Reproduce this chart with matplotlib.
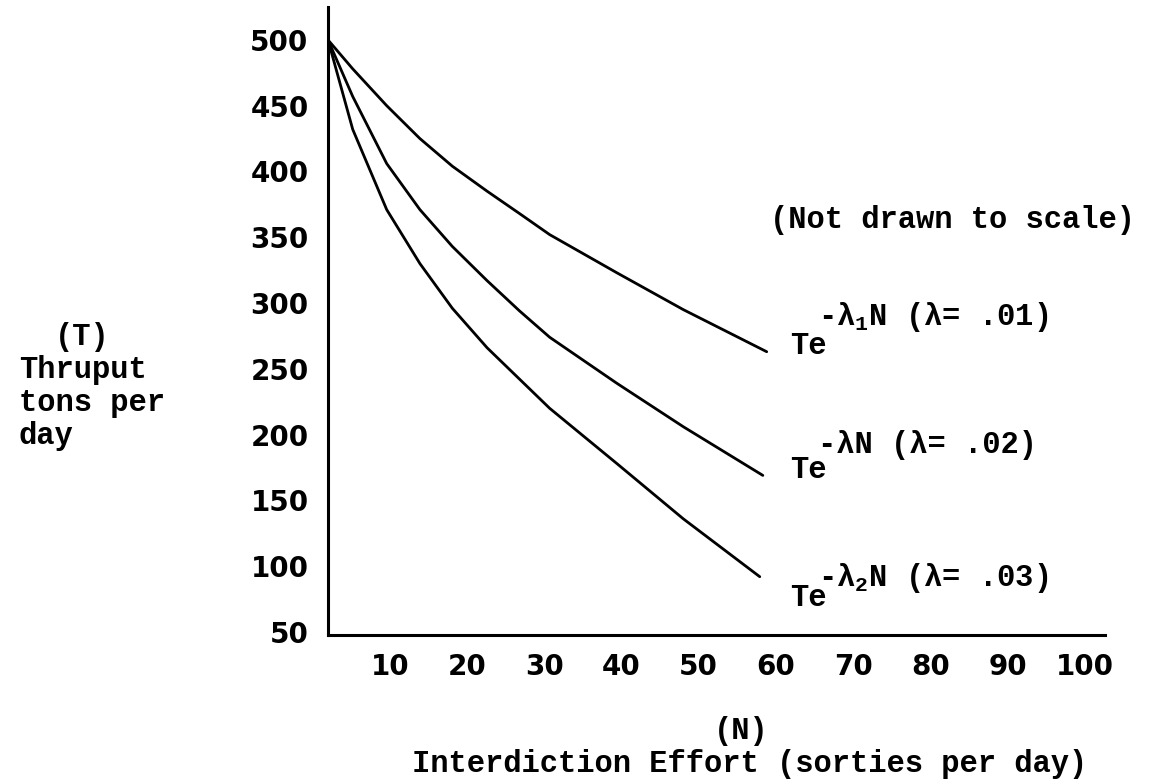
import matplotlib
matplotlib.use('Agg')
import matplotlib.pyplot as plt

# typewriter look for the labels, subscripts go through mathtext
plt.rcParams['mathtext.fontset'] = 'custom'
plt.rcParams['mathtext.rm'] = 'Liberation Mono:bold'
plt.rcParams['mathtext.it'] = 'Liberation Mono:bold'
plt.rcParams['mathtext.bf'] = 'Liberation Mono:bold'
plt.rcParams['mathtext.default'] = 'rm'

W, H = 1155, 779
mono = ['Liberation Mono', 'DejaVu Sans']
txt_size = 22

### data
n_01 = [2, 5.2, 9.6, 13.9, 18.1, 22.6, 26.8, 30.7, 39.4, 48.0, 58.8]
t_01 = [500, 478, 450, 425, 404, 385, 368, 352, 323, 295, 263]

n_02 = [2, 5.2, 9.6, 13.9, 18.1, 22.6, 26.8, 30.7, 39.4, 48.0, 58.3]
t_02 = [500, 457, 406, 371, 343, 317, 294, 274, 239, 206, 169]

n_03 = [2, 5.2, 9.6, 13.9, 18.1, 22.6, 30.7, 39.4, 48.0, 57.9]
t_03 = [500, 432, 371, 330, 296, 266, 220, 178, 136, 92]

x_ticks = [10, 20, 30, 40, 50, 60, 70, 80, 90, 100]
y_ticks = [50, 100, 150, 200, 250, 300, 350, 400, 450, 500]

sup_labels = ['-λ$_1$N (λ= .01)', '-λN (λ= .02)', '-λ$_2$N (λ= .03)']


def px(x, y):
    return x / W, 1 - y / H


fig = plt.figure(figsize=(W / 100, H / 100), dpi=100)
ax = fig.add_axes([328 / W, 1 - 635 / H, (1105 - 328) / W, (635 - 7) / H])

for n, t in [(n_01, t_01), (n_02, t_02), (n_03, t_03)]:
    ax.plot(n, t, color='black', lw=2.0, solid_capstyle='round', solid_joinstyle='round')

ax.set_xlim(2, 102.6)
ax.set_ylim(47.7, 525)
ax.set_xticks(x_ticks)
ax.set_yticks(y_ticks)
ax.tick_params(axis='both', length=0, labelsize=20)
ax.tick_params(axis='y', pad=14)
ax.tick_params(axis='x', pad=13)
for lbl in ax.get_xticklabels() + ax.get_yticklabels():
    lbl.set_fontweight('bold')

for s in ['top', 'right']:
    ax.spines[s].set_visible(False)
for s in ['left', 'bottom']:
    ax.spines[s].set_linewidth(2.2)

# y axis label block
fig.text(*px(82, 337), '(T)', family=mono, weight='bold', fontsize=txt_size, ha='center', va='center')
for i, line in enumerate(['Thruput', 'tons per', 'day']):
    fig.text(*px(19, 370 + 33 * i), line, family=mono, weight='bold', fontsize=txt_size,
             ha='left', va='center')

# x axis label
fig.text(*px(741, 731), '(N)', family=mono, weight='bold', fontsize=txt_size, ha='center', va='center')
fig.text(*px(750, 764), 'Interdiction Effort (sorties per day)', family=mono, weight='bold',
         fontsize=txt_size, ha='center', va='center')

fig.text(*px(770, 220), '(Not drawn to scale)', family=mono, weight='bold', fontsize=txt_size,
         ha='left', va='center')

# curve labels
te_y = [346, 470, 598]
sup_y = [317, 445, 578]
for lab, ty, sy in zip(sup_labels, te_y, sup_y):
    fig.text(*px(790, ty), 'Te', family=mono, weight='bold', fontsize=txt_size, ha='left', va='center')
    fig.text(*px(818, sy), lab, family=mono, weight='bold', fontsize=txt_size, ha='left', va='center')

fig.savefig('out.png', dpi=100, facecolor='white')
